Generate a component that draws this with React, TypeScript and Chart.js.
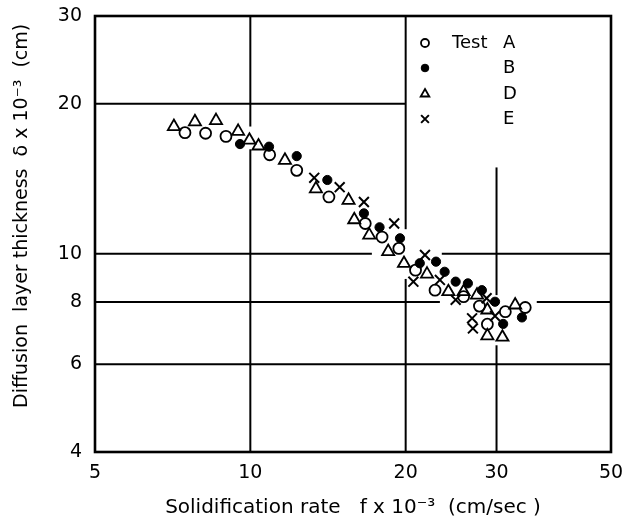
import React, { useEffect, useRef } from 'react';
import { Chart, registerables } from 'chart.js';
import * as helpers from 'chart.js/helpers';

Chart.register(...registerables);

// ---- data ----
const xTickValues = [5, 10, 20, 30, 50];
const yTickValues = [4, 6, 8, 10, 20, 30];

const legendPrefix = 'Test';
const legendLetters = ['A', 'B', 'D', 'E'];

const testA_x = [7.47, 8.19, 8.97, 10.9, 12.3, 14.2, 16.7, 18.0, 19.4, 20.9, 22.8, 25.9, 27.8, 28.8, 31.2, 34.1];
const testA_y = [17.5, 17.45, 17.2, 15.8, 14.7, 13.0, 11.5, 10.8, 10.25, 9.27, 8.45, 8.2, 7.85, 7.22, 7.65, 7.8];

const testB_x = [9.55, 10.87, 12.3, 14.1, 16.6, 17.8, 19.5, 21.3, 22.9, 23.8, 25.0, 26.4, 28.1, 29.8, 30.9, 33.6];
const testB_y = [16.6, 16.4, 15.7, 14.06, 12.05, 11.3, 10.74, 9.57, 9.64, 9.2, 8.79, 8.72, 8.45, 8.01, 7.23, 7.45];

const testD_x = [7.11, 7.81, 8.58, 9.47, 9.96, 10.37, 11.67, 13.4, 15.5, 15.9, 17.0, 18.5, 19.85, 22.0, 24.2, 25.9, 27.5, 28.8, 32.6, 28.8, 30.8];
const testD_y = [18.0, 18.4, 18.5, 17.6, 16.9, 16.45, 15.4, 13.5, 12.8, 11.7, 10.9, 10.1, 9.56, 9.1, 8.39, 8.39, 8.26, 7.71, 7.89, 6.84, 6.8];

const testE_x = [13.3, 14.9, 16.6, 19.0, 21.8, 20.7, 23.3, 25.0, 28.7, 26.9, 29.8, 27.0];
const testE_y = [14.2, 13.6, 12.7, 11.5, 9.94, 8.79, 8.86, 8.08, 8.14, 7.42, 7.5, 7.08];

// grid segments (data units) – the original grid is interrupted where data lie
const verticalGrid = [
  { at: 10, from: 4, to: 16.2 }, { at: 10, from: 18, to: 30 },
  { at: 20, from: 11.2, to: 30 }, { at: 20, from: 4, to: 8.9 },
  { at: 30, from: 8.26, to: 14.9 }, { at: 30, from: 4, to: 6.55 },
];
const horizontalGrid = [
  { at: 20, from: 5, to: 20 },
  { at: 10, from: 5, to: 17.2 }, { at: 10, from: 23.5, to: 50 },
  { at: 8, from: 5, to: 23.3 }, { at: 8, from: 35.9, to: 50 },
  { at: 6, from: 5, to: 50 },
];

const FONT = "'DejaVu Sans', sans-serif";

const zip = (xs: number[], ys: number[]) => xs.map((x, i) => ({ x, y: ys[i] }));

const styles = [
  { pointStyle: 'circle', radius: 5.5, borderWidth: 1.8, fill: 'rgba(0,0,0,0)', lr: 4, lw: 1.8 },
  { pointStyle: 'circle', radius: 4.6, borderWidth: 1, fill: '#000', lr: 3.8, lw: 1 },
  { pointStyle: 'triangle', radius: 7, borderWidth: 1.8, fill: 'rgba(0,0,0,0)', lr: 5, lw: 1.8 },
  { pointStyle: 'crossRot', radius: 7, borderWidth: 2, fill: 'rgba(0,0,0,0)', lr: 5.5, lw: 2 },
];

const decorPlugin = {
  id: 'decor',
  beforeDatasetsDraw(chart: any) {
    const { ctx, chartArea: a, scales } = chart;
    const x = scales.x, y = scales.y;
    ctx.save();
    ctx.strokeStyle = '#000';
    ctx.lineWidth = 2;
    for (const g of verticalGrid) {
      const px = x.getPixelForValue(g.at);
      ctx.beginPath();
      ctx.moveTo(px, y.getPixelForValue(g.from));
      ctx.lineTo(px, y.getPixelForValue(g.to));
      ctx.stroke();
    }
    for (const g of horizontalGrid) {
      const py = y.getPixelForValue(g.at);
      ctx.beginPath();
      ctx.moveTo(x.getPixelForValue(g.from), py);
      ctx.lineTo(x.getPixelForValue(g.to), py);
      ctx.stroke();
    }
    ctx.lineWidth = 2.6;
    ctx.strokeRect(a.left, a.top, a.width, a.height);
    ctx.restore();
  },
  afterDatasetsDraw(chart: any) {
    const { ctx, chartArea: a } = chart;
    ctx.save();
    const markerX = a.left + 330;
    const prefixX = a.left + 357;
    const letterX = a.left + 408;
    const rowY = [a.top + 27, a.top + 52, a.top + 78, a.top + 103];
    ctx.font = `18px ${FONT}`;
    ctx.fillStyle = '#000';
    ctx.textBaseline = 'middle';
    ctx.textAlign = 'left';
    legendLetters.forEach((letter, i) => {
      const s = styles[i];
      ctx.strokeStyle = '#000';
      ctx.fillStyle = s.fill;
      ctx.lineWidth = s.lw;
      (helpers as any).drawPoint(ctx, { pointStyle: s.pointStyle, radius: s.lr, borderWidth: s.lw, rotation: 0 }, markerX, rowY[i]);
      ctx.fillStyle = '#000';
      if (i === 0) ctx.fillText(legendPrefix, prefixX, rowY[i]);
      ctx.fillText(letter, letterX, rowY[i]);
    });
    ctx.restore();
  },
};

export default function App() {
  const ref = useRef<HTMLCanvasElement | null>(null);
  useEffect(() => {
    if (!ref.current) return;
    const sets = [
      zip(testA_x, testA_y),
      zip(testB_x, testB_y),
      zip(testD_x, testD_y),
      zip(testE_x, testE_y),
    ];
    const chart = new Chart(ref.current, {
      type: 'scatter',
      data: {
        datasets: sets.map((d, i) => ({
          label: `${legendPrefix} ${legendLetters[i]}`,
          data: d,
          pointStyle: styles[i].pointStyle as any,
          pointRadius: styles[i].radius,
          pointBorderWidth: styles[i].borderWidth,
          pointBackgroundColor: styles[i].fill,
          pointBorderColor: '#000',
          showLine: false,
        })),
      },
      options: {
        responsive: false,
        animation: false,
        layout: { padding: { top: 16, right: 31, left: 0, bottom: 0 } },
        plugins: { legend: { display: false }, tooltip: { enabled: false } },
        scales: {
          x: {
            type: 'logarithmic',
            min: 5,
            max: 50,
            grid: { display: false, drawTicks: false },
            border: { display: false },
            afterBuildTicks: (s: any) => { s.ticks = xTickValues.map((v) => ({ value: v })); },
            afterFit: (s: any) => { s.height = 73; s.paddingLeft = 0; s.paddingRight = 0; },
            ticks: {
              color: '#000',
              padding: 10,
              maxRotation: 0,
              font: { family: FONT, size: 19 },
              callback: (v: any) => String(v),
            },
            title: {
              display: true,
              text: 'Solidification rate   f x 10\u207B\u00B3  (cm/sec )',
              color: '#000',
              font: { family: FONT, size: 20 },
              padding: { top: 0, bottom: 5 },
            },
          },
          y: {
            type: 'logarithmic',
            min: 4,
            max: 30,
            grid: { display: false, drawTicks: false },
            border: { display: false },
            afterBuildTicks: (s: any) => { s.ticks = yTickValues.map((v) => ({ value: v })); },
            afterFit: (s: any) => { s.width = 95; s.paddingTop = 0; s.paddingBottom = 0; },
            ticks: {
              color: '#000',
              padding: 13,
              font: { family: FONT, size: 19 },
              callback: (v: any) => String(v),
            },
            title: {
              display: true,
              text: '      Diffusion  layer thickness  \u03B4 x 10\u207B\u00B3  (cm)',
              color: '#000',
              font: { family: FONT, size: 19 },
              padding: { top: 11, bottom: 0 },
            },
          },
        },
      },
      plugins: [decorPlugin],
    });
    return () => chart.destroy();
  }, []);
  return (
    <div style={{ position: 'fixed', left: 0, top: 0, width: 642, height: 525, background: '#fff' }}>
      <canvas ref={ref} width={642} height={525} style={{ display: 'block' }} />
    </div>
  );
}
